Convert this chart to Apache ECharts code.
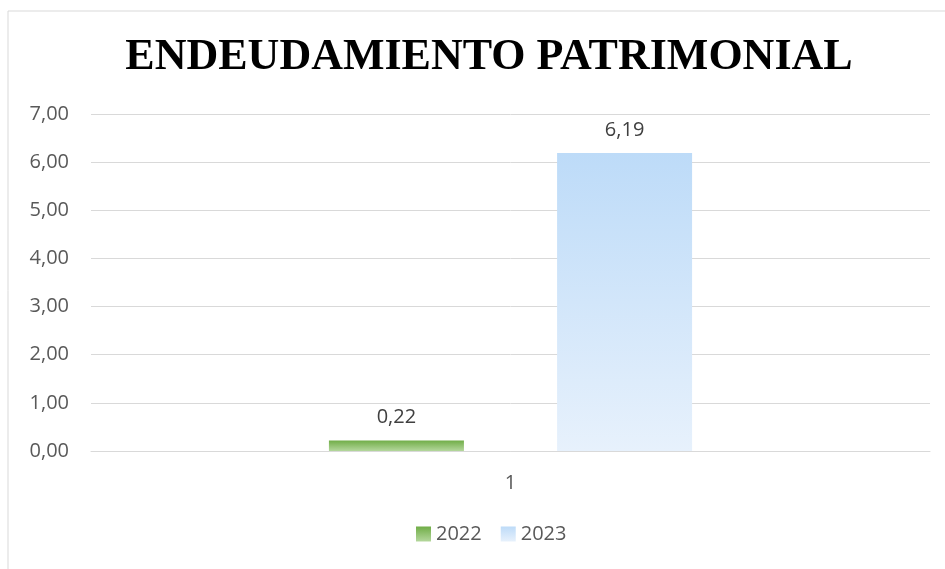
<!DOCTYPE html>
<html>
<head>
<meta charset="utf-8">
<script src="https://cdn.jsdelivr.net/npm/echarts@6/dist/echarts.min.js"></script>
<style>
  html, body { margin: 0; padding: 0; background: #fff; }
  #main { width: 945px; height: 569px; }
</style>
</head>
<body>
<div id="main"></div>
<script>
// datos
const categories = ['1']
const years = ['2022', '2023']
const values2022 = [0.22]
const values2023 = [6.19]
const yTicks = [0, 1, 2, 3, 4, 5, 6, 7]

const fmt = v => v.toFixed(2).replace('.', ',')

const greenFill = new echarts.graphic.LinearGradient(0, 0, 0, 1, [
  {offset: 0, color: '#70ad47'},
  {offset: 1, color: '#b4d79c'}
])
const blueFill = new echarts.graphic.LinearGradient(0, 0, 0, 1, [
  {offset: 0, color: '#bddbf8'},
  {offset: 1, color: '#e7f1fc'}
])

const myChart = echarts.init(document.getElementById('main'))

myChart.setOption({
  animation: false,
  graphic: [{
    type: 'rect',
    shape: {x: 8, y: 11, width: 950, height: 570},
    style: {fill: 'none', stroke: '#d9d9d9', lineWidth: 1}
  }],
  title: {
    text: 'ENDEUDAMIENTO PATRIMONIAL',
    left: 484,
    textAlign: 'center',
    top: 31,
    textStyle: {
      fontFamily: 'Liberation Serif',
      fontWeight: 'bold',
      fontSize: 44,
      color: '#000'
    }
  },
  legend: {
    data: years,
    bottom: 20,
    left: 411,
    itemWidth: 15,
    itemHeight: 15,
    itemGap: 19,
    icon: 'rect',
    textStyle: {fontFamily: 'Open Sans', fontSize: 20, color: '#595959'}
  },
  grid: {left: 91, right: 15, top: 114, bottom: 118},
  xAxis: {
    type: 'category',
    data: categories,
    axisLine: {lineStyle: {color: '#d9d9d9', width: 1}},
    axisTick: {show: false},
    axisLabel: {fontFamily: 'Open Sans', fontSize: 20, color: '#595959', margin: 22}
  },
  yAxis: {
    type: 'value',
    min: yTicks[0],
    max: yTicks[yTicks.length - 1],
    interval: 1,
    axisLine: {show: false},
    axisTick: {show: false},
    splitLine: {lineStyle: {color: '#d9d9d9', width: 1}},
    axisLabel: {
      fontFamily: 'Open Sans', fontSize: 20, color: '#595959', margin: 22,
      formatter: v => fmt(v)
    }
  },
  series: [
    {
      name: years[0],
      type: 'bar',
      data: values2022,
      barWidth: 135,
      barGap: '69%',
      itemStyle: {color: greenFill},
      label: {
        show: true, position: 'top', distance: 13,
        fontFamily: 'Open Sans', fontSize: 20, color: '#404040',
        formatter: p => fmt(p.value)
      }
    },
    {
      name: years[1],
      type: 'bar',
      data: values2023,
      barWidth: 135,
      itemStyle: {color: blueFill},
      label: {
        show: true, position: 'top', distance: 13,
        fontFamily: 'Open Sans', fontSize: 20, color: '#404040',
        formatter: p => fmt(p.value)
      }
    }
  ]
})
</script>
</body>
</html>
